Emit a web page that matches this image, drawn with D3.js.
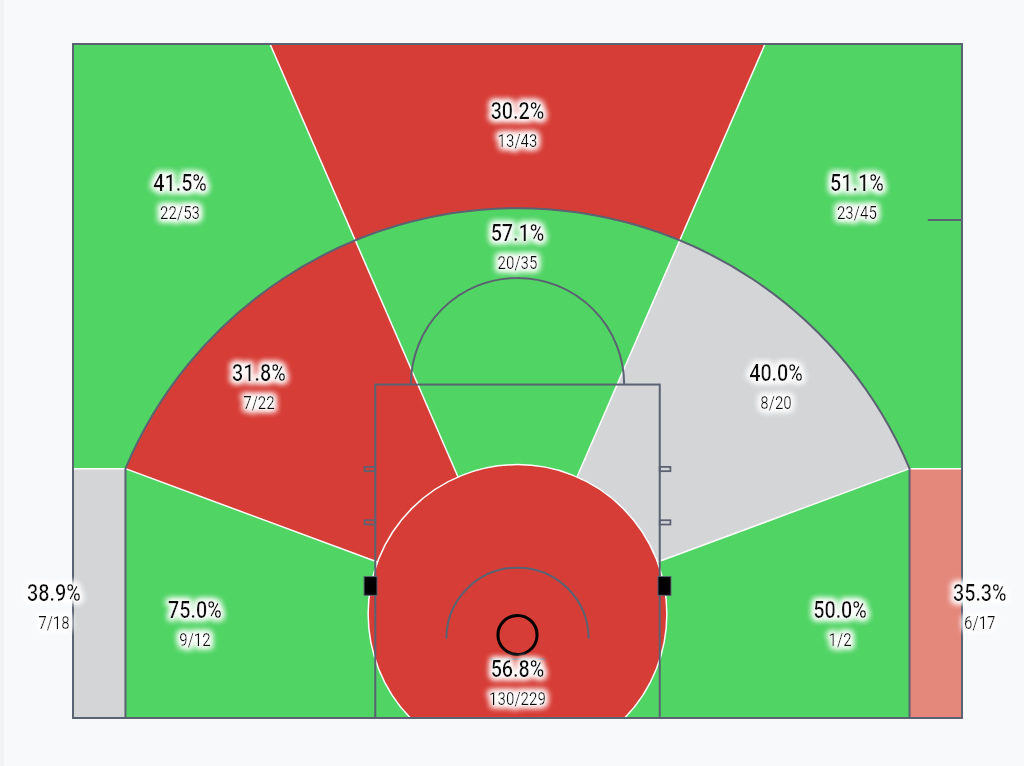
<!DOCTYPE html>
<html>
<head>
<meta charset="utf-8">
<script src="https://cdn.jsdelivr.net/npm/d3@7"></script>
<style>
  html, body { margin: 0; padding: 0; background: #f8f9fb; }
  svg { display: block; }
</style>
</head>
<body>
<div id="chart"></div>
<script>
// shot zones, in drawing order of the labels
const zones = ["Left Corner 3", "Left Wing 3", "Top 3", "Right Wing 3", "Right Corner 3",
               "Left Baseline 2", "Left Wing 2", "Top 2", "Right Wing 2", "Right Baseline 2", "Paint"];
const made     = [7, 22, 13, 23, 6, 9, 7, 20, 8, 1, 130];
const attempts = [18, 53, 43, 45, 17, 12, 22, 35, 20, 2, 229];
// how each zone compares with league average
const rating   = ["avg", "above", "below", "above", "slightlyBelow",
                  "above", "below", "above", "avg", "above", "below"];

const ratingColor = {
  above: "#50d464",
  below: "#d63d36",
  avg: "#d4d5d7",
  slightlyBelow: "#e5887c"
};

// label anchors in court feet (x from centre, y from baseline)
const labelAt = [[-26.07, 6.2], [-18.98, 29.25], [0, 33.3], [19.09, 29.25], [26.0, 6.2],
                 [-18.14, 5.25], [-14.54, 18.55], [0, 26.45], [14.54, 18.55], [18.14, 5.25], [0, 1.9]];

const width = 1024, height = 766;
const svg = d3.select("#chart").append("svg")
  .attr("width", width).attr("height", height);

svg.append("rect").attr("width", 4).attr("height", height).attr("fill", "#f1f2f3");

// court in feet -> pixels
const courtLen = 37.9;
const x = d3.scaleLinear().domain([-25, 25]).range([73, 962]);
const y = d3.scaleLinear().domain([0, courtLen]).range([718, 44]);
const k = x(1) - x(0);

const lineColor = "#5b6272";
const lineW = 2;

// geometry (feet)
const hoopY = 4.75, arcR = 23.92, cornerX = 22.05;
const cornerY = hoopY + Math.sqrt(arcR * arcR - cornerX * cornerX);
const paintC = [0, 5.85], paintR = 8.4;
const topSplitX = 13.92;           // where the upper split lines meet the far edge

const defs = svg.append("defs");
defs.append("clipPath").attr("id", "court")
  .append("rect")
  .attr("x", x(-25)).attr("y", y(courtLen))
  .attr("width", x(25) - x(-25)).attr("height", y(0) - y(courtLen));

const threePath = `M${x(-cornerX)},${y(0)} L${x(-cornerX)},${y(cornerY)} ` +
  `A${arcR * k},${arcR * k} 0 0 1 ${x(cornerX)},${y(cornerY)} L${x(cornerX)},${y(0)}`;

defs.append("clipPath").attr("id", "inside3")
  .append("path").attr("d", threePath + " Z");

const halo = defs.append("filter").attr("id", "halo")
  .attr("x", "-40%").attr("y", "-60%").attr("width", "180%").attr("height", "220%");
halo.append("feMorphology").attr("in", "SourceAlpha").attr("operator", "dilate").attr("radius", 1.5).attr("result", "d");
halo.append("feGaussianBlur").attr("in", "d").attr("stdDeviation", 3).attr("result", "b");
halo.append("feFlood").attr("flood-color", "#fff");
halo.append("feComposite").attr("in2", "b").attr("operator", "in").attr("result", "g");
const merge = halo.append("feMerge");
merge.append("feMergeNode").attr("in", "g");
merge.append("feMergeNode").attr("in", "g");
merge.append("feMergeNode").attr("in", "SourceGraphic");

// split angles around the paint circle centre (d3.arc: 0 = up, clockwise)
const cx = x(paintC[0]), cy = y(paintC[1]);
const angleTo = (fx, fy) => Math.atan2(x(fx) - cx, cy - y(fy));
const aUp = angleTo(topSplitX, courtLen);
const aLow = angleTo(cornerX, cornerY);

const fill = i => ratingColor[rating[i]];
const wedge = d3.arc().innerRadius(0).outerRadius(1500);

const g = svg.append("g").attr("clip-path", "url(#court)");

// three point wedges
const outerWedges = [[1, -Math.PI, -aUp], [2, -aUp, aUp], [3, aUp, Math.PI]];
g.append("g").selectAll("path").data(outerWedges).join("path")
  .attr("transform", `translate(${cx},${cy})`)
  .attr("d", d => wedge({startAngle: d[1], endAngle: d[2]}))
  .attr("fill", d => fill(d[0]));

// mid range wedges, clipped to inside the arc
const midWedges = [[5, -Math.PI, -aLow], [6, -aLow, -aUp], [7, -aUp, aUp], [8, aUp, aLow], [9, aLow, Math.PI]];
g.append("g").attr("clip-path", "url(#inside3)")
  .selectAll("path").data(midWedges).join("path")
  .attr("transform", `translate(${cx},${cy})`)
  .attr("d", d => wedge({startAngle: d[1], endAngle: d[2]}))
  .attr("fill", d => fill(d[0]));

// corners
g.selectAll("rect.corner").data([[0, -25, -cornerX], [4, cornerX, 25]]).join("rect")
  .attr("class", "corner")
  .attr("x", d => x(d[1])).attr("y", y(cornerY))
  .attr("width", d => x(d[2]) - x(d[1])).attr("height", y(0) - y(cornerY))
  .attr("fill", d => fill(d[0]));

// zone split lines
const splitW = 1.5;
const rays = [[-topSplitX, courtLen], [topSplitX, courtLen], [-cornerX, cornerY], [cornerX, cornerY]];
g.selectAll("line.split").data(rays).join("line")
  .attr("class", "split")
  .attr("x1", d => { const a = angleTo(d[0], d[1]); return cx + paintR * k * Math.sin(a); })
  .attr("y1", d => { const a = angleTo(d[0], d[1]); return cy - paintR * k * Math.cos(a); })
  .attr("x2", d => x(d[0])).attr("y2", d => y(d[1]))
  .attr("stroke", "#fff").attr("stroke-width", splitW);
g.selectAll("line.cornerTop").data([[-25, -cornerX], [cornerX, 25]]).join("line")
  .attr("class", "cornerTop")
  .attr("x1", d => x(d[0])).attr("x2", d => x(d[1]))
  .attr("y1", y(cornerY)).attr("y2", y(cornerY))
  .attr("stroke", "#fff").attr("stroke-width", splitW);

// paint circle
g.append("circle")
  .attr("cx", cx).attr("cy", cy).attr("r", paintR * k)
  .attr("fill", fill(10)).attr("stroke", "#fff").attr("stroke-width", splitW);

// court markings
const court = svg.append("g").attr("fill", "none").attr("stroke", lineColor).attr("stroke-width", lineW);

court.append("path").attr("d", threePath);

// lane
const laneW = 8, ftY = 18.75;
court.append("rect")
  .attr("x", x(-laneW)).attr("y", y(ftY))
  .attr("width", x(laneW) - x(-laneW)).attr("height", y(0) - y(ftY));

// free throw semicircle
court.append("path")
  .attr("d", `M${x(-6)},${y(ftY)} A${6 * k},${6 * k} 0 0 1 ${x(6)},${y(ftY)}`);

// lane hash marks
const hashY = [11, 14];
hashY.forEach(h => {
  [[-laneW - 0.6, -laneW], [laneW, laneW + 0.6]].forEach(s => {
    court.append("rect")
      .attr("x", x(s[0])).attr("y", y(h + 0.12))
      .attr("width", x(s[1]) - x(s[0])).attr("height", 0.24 * k)
      .attr("stroke-width", 1.8);
  });
});

// blocks
[[-8.63, -7.9], [7.9, 8.63]].forEach(s => {
  svg.append("rect")
    .attr("x", x(s[0])).attr("y", y(7.95))
    .attr("width", x(s[1]) - x(s[0])).attr("height", y(6.9) - y(7.95))
    .attr("fill", "#000").attr("stroke", lineColor).attr("stroke-width", 1);
});

// restricted area
const raY = 4.45;
court.append("path")
  .attr("d", `M${x(-4)},${y(raY)} A${4 * k},${4 * k} 0 0 1 ${x(4)},${y(raY)}`);

// coaching box tick
court.append("line")
  .attr("x1", x(23.08)).attr("x2", x(25)).attr("y1", y(28)).attr("y2", y(28));

// backboard
court.append("line")
  .attr("x1", x(-1.55)).attr("x2", x(1.55)).attr("y1", y(3.3)).attr("y2", y(3.3))
  .attr("stroke-width", 1.5);

// rim
svg.append("circle")
  .attr("cx", x(0)).attr("cy", y(4.67)).attr("r", 1.1 * k)
  .attr("fill", "none").attr("stroke", "#000").attr("stroke-width", 3);

// court outline
svg.append("rect")
  .attr("x", x(-25)).attr("y", y(courtLen))
  .attr("width", x(25) - x(-25)).attr("height", y(0) - y(courtLen))
  .attr("fill", "none").attr("stroke", lineColor).attr("stroke-width", lineW);

// labels (narrow face: Roboto squeezed horizontally)
const pct = d3.format(".1%");
const squeeze = 0.86;
const labels = svg.append("g")
  .attr("font-family", "Roboto, 'Noto Sans', sans-serif")
  .attr("fill", "#111").attr("text-anchor", "middle")
  .attr("filter", "url(#halo)");

zones.forEach((z, i) => {
  const lx = x(labelAt[i][0]), ly = y(labelAt[i][1]);
  const lg = labels.append("g").attr("transform", `translate(${lx},${ly}) scale(${squeeze},1)`);
  lg.append("text")
    .attr("y", -15)
    .attr("dominant-baseline", "central")
    .attr("font-size", 23).attr("font-weight", 500)
    .text(pct(made[i] / attempts[i]));
  lg.append("text")
    .attr("y", 15)
    .attr("dominant-baseline", "central")
    .attr("font-size", 17.5)
    .text(`${made[i]}/${attempts[i]}`);
});
</script>
</body>
</html>
